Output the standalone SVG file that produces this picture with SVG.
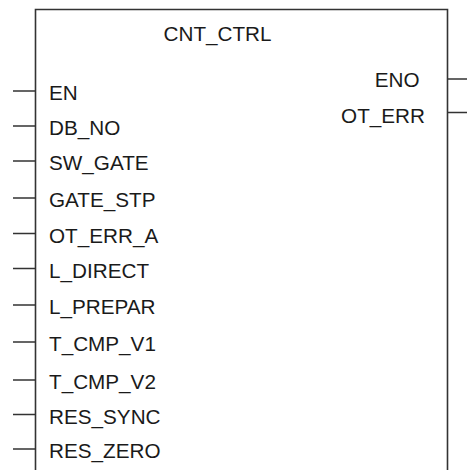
<svg xmlns="http://www.w3.org/2000/svg" width="467" height="470" viewBox="0 0 467 470">
<style>
.t{font-family:"Liberation Sans",Arial,sans-serif;font-size:20.7px;fill:#1a1a1a}
.l{stroke:#333;stroke-width:1.6;fill:none}
</style>
<rect width="467" height="470" fill="#fff"/>
<g id="block">
<path class="l" d="M35.5 471V9.5H447.5V471"/>
<text class="t" x="163.5" y="41">CNT_CTRL</text>
</g>
<g id="connectors">
<path class="l" d="M13 91H35.5M13 126H35.5M13 161H35.5M13 198H35.5M13 233.5H35.5M13 268.5H35.5M13 305H35.5M13 342H35.5M13 380H35.5M13 414.5H35.5M13 449H35.5M447.5 79H467M447.5 112.5H467"/>
</g>
<g id="in-EN"><text class="t" x="49" y="100">EN</text></g>
<g id="in-DB_NO"><text class="t" x="49" y="135">DB_NO</text></g>
<g id="in-SW_GATE"><text class="t" x="49" y="170">SW_GATE</text></g>
<g id="in-GATE_STP"><text class="t" x="49" y="207">GATE_STP</text></g>
<g id="in-OT_ERR_A"><text class="t" x="49" y="242.5">OT_ERR_A</text></g>
<g id="in-L_DIRECT"><text class="t" x="49" y="277.5">L_DIRECT</text></g>
<g id="in-L_PREPAR"><text class="t" x="49" y="314">L_PREPAR</text></g>
<g id="in-T_CMP_V1"><text class="t" x="49" y="351">T_CMP_V1</text></g>
<g id="in-T_CMP_V2"><text class="t" x="49" y="389">T_CMP_V2</text></g>
<g id="in-RES_SYNC"><text class="t" x="49" y="423.5">RES_SYNC</text></g>
<g id="in-RES_ZERO"><text class="t" x="49" y="458">RES_ZERO</text></g>
<g id="out-ENO"><text class="t" x="419.5" y="86.5" text-anchor="end">ENO</text></g>
<g id="out-OT_ERR"><text class="t" x="425" y="122.5" text-anchor="end">OT_ERR</text></g>
</svg>
